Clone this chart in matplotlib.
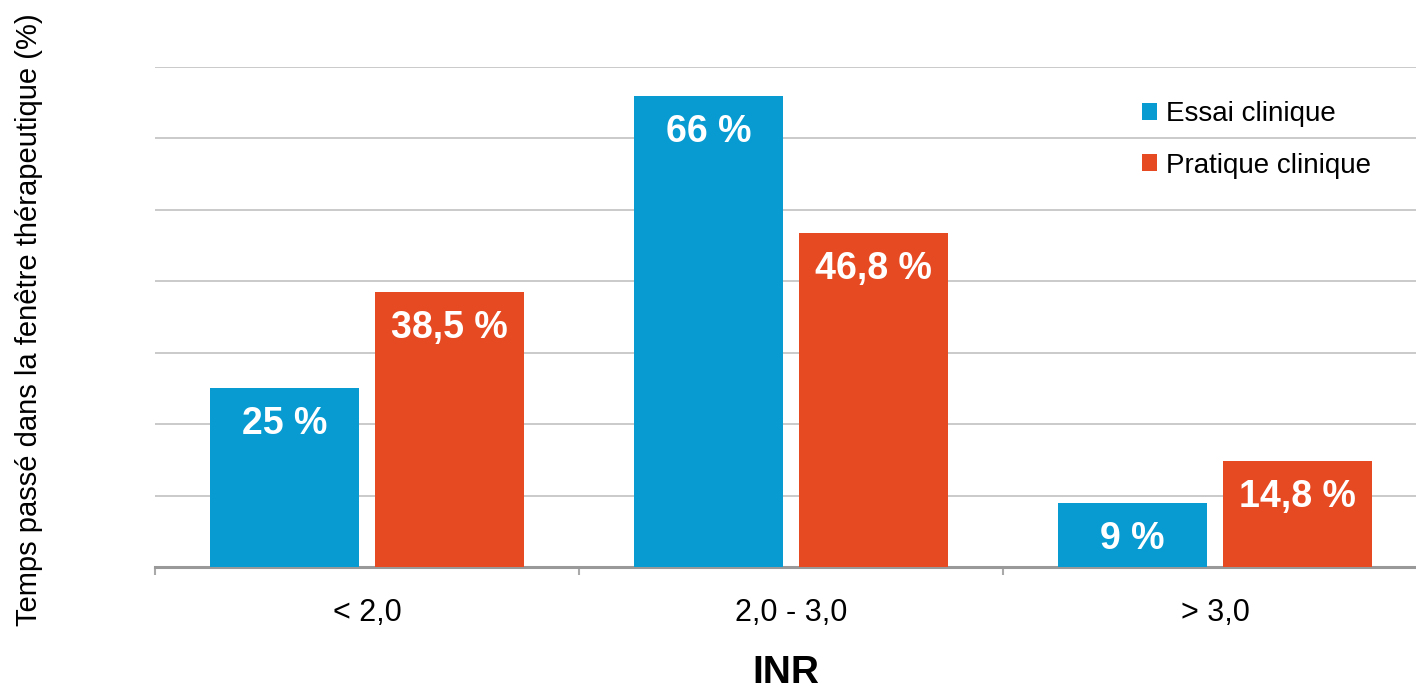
import matplotlib
matplotlib.use("Agg")
import matplotlib.pyplot as plt
import numpy as np

plt.rcParams['font.family'] = ['Liberation Sans', 'DejaVu Sans']

categories = ["< 2,0", "2,0 - 3,0", "> 3,0"]
essai = [25, 66, 9]
pratique = [38.5, 46.8, 14.8]
essai_labels = ["25 %", "66 %", "9 %"]
pratique_labels = ["38,5 %", "46,8 %", "14,8 %"]
series_names = ["Essai clinique", "Pratique clinique"]

blue = '#079bd2'
orange = '#e64a22'

fig = plt.figure(figsize=(14.16, 6.93), dpi=100)
ax = fig.add_axes([155/1416, 1-567/693, 1-155/1416, (567-67)/693])

x = np.arange(len(categories))
w = 0.35
off = 0.195
b1 = ax.bar(x - off, essai, w, color=blue, label=series_names[0], zorder=3)
b2 = ax.bar(x + off, pratique, w, color=orange, label=series_names[1], zorder=3)

for bars, labs in ((b1, essai_labels), (b2, pratique_labels)):
    for rect, lab in zip(bars, labs):
        ax.annotate(lab, (rect.get_x() + rect.get_width()/2, rect.get_height()),
                    xytext=(0, -13), textcoords='offset points', ha='center', va='top',
                    color='white', fontsize=27, fontweight='bold', zorder=4)

# the original plot area is slightly wider than the image: last group is cut at the right edge
ax.set_xlim(-0.5, -0.5 + (1416 - 155) / 424)
ax.set_ylim(0, 70)
ax.set_yticks(np.arange(10, 71, 10))
ax.yaxis.grid(True, color='#c6c6c6', linewidth=1.3, zorder=0)
ax.tick_params(axis='y', left=False, labelleft=False)
for s in ['left', 'right', 'top']:
    ax.spines[s].set_visible(False)
ax.spines['bottom'].set_color('#999999')
ax.spines['bottom'].set_linewidth(2.2)

ax.set_xticks([-0.5, 0.5, 1.5])
ax.set_xticklabels([])
ax.tick_params(axis='x', which='major', length=6, width=1.5, color='#aaaaaa')
ax.set_xticks(x, minor=True)
ax.set_xticklabels(categories, minor=True, fontsize=22)
ax.tick_params(axis='x', which='minor', length=0, pad=22)

ax.set_xlabel("INR", fontsize=28, fontweight='bold', labelpad=20)
fig.text(29/1416, 1-320/693, "Temps passé dans la fenêtre thérapeutique (%)",
         rotation=90, ha='center', va='center', fontsize=21)

ax.legend(loc='upper left', bbox_to_anchor=(1142/1416, 1-101/693), bbox_transform=fig.transFigure,
          frameon=False, fontsize=20, handlelength=0.55, handleheight=0.55,
          handletextpad=0.3, labelspacing=0.92, borderpad=0, borderaxespad=0)

fig.savefig("out.png", dpi=100)
